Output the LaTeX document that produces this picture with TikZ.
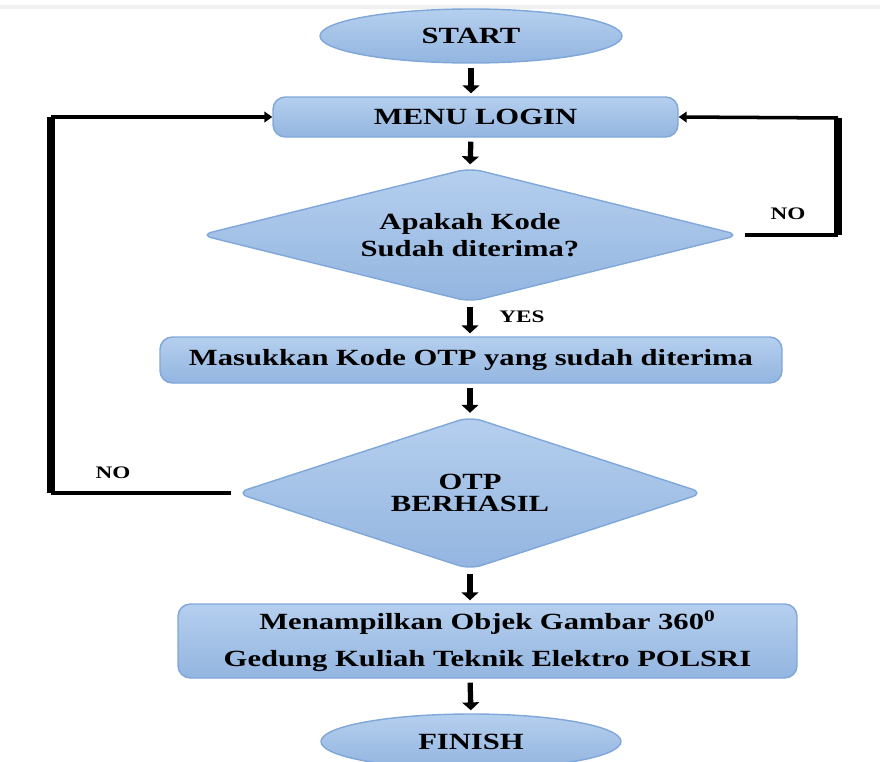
\documentclass[tikz,border=0pt]{standalone}
\usepackage{fontspec}
\setmainfont{Liberation Serif}[FakeStretch=1.32]
\usetikzlibrary{shapes.geometric,arrows.meta,positioning}
\definecolor{birumuda}{HTML}{B5CFEE}
\definecolor{birutua}{HTML}{93B5E0}
\definecolor{garisbiru}{HTML}{7FA7D9}
\tikzset{
  kotak/.style={rectangle, rounded corners=7pt, draw=garisbiru, line width=0.8pt,
    top color=birumuda, bottom color=birutua, inner sep=0pt, align=center,
    font=\bfseries\fontsize{13.2}{16}\selectfont},
  oval/.style={kotak, ellipse},
  belah/.style={kotak, diamond},
  panah/.style={line width=3pt, shorten <=0.08cm, shorten >=0.06cm,
    -{Triangle[length=4.5pt,width=9.5pt]}},
  balik/.style={line width=2pt, -{Triangle[length=4.5pt,width=6pt]}},
  tebal/.style={line width=5pt, line cap=square},
  bawah/.style={line width=2.8pt},
  ket/.style={font=\bfseries\fontsize{10}{12}\selectfont}
}

\begin{document}
\begin{tikzpicture}
        \useasboundingbox (0,0) rectangle (17.6,-15.24);
        \clip (0,0) rectangle (17.6,-15.24);
        %garis atas
        \draw[gray!12, line width=2pt] (0,-0.14) -- (17.6,-0.14);
        %simbol
        \node[oval, minimum width=6.04cm, minimum height=1.08cm] (mulai) at (9.42,-0.72) {START};
        \node[kotak, minimum width=8.1cm, minimum height=0.8cm] (menu) at (9.51,-2.34) {MENU LOGIN};
        \node[belah, aspect=4, minimum width=10.8cm, minimum height=2.68cm] (cekkode) at (9.4,-4.7)
            {Apakah Kode\\[-1pt] Sudah diterima?};
        \node[kotak, minimum width=12.44cm, minimum height=0.92cm] (masukkan) at (9.42,-7.2)
            {Masukkan Kode OTP yang sudah diterima};
        \node[belah, aspect=3, minimum width=9.36cm, minimum height=3.06cm] (cekotp) at (9.4,-9.86)
            {OTP\\[-3pt] BERHASIL};
        \node[kotak, minimum width=12.38cm, minimum height=1.48cm] (tampil) at (9.75,-12.82)
            {Menampilkan Objek Gambar 360\textsuperscript{0}\\[5pt] Gedung Kuliah Teknik Elektro POLSRI};
        \node[oval, minimum width=6.0cm, minimum height=1.1cm] (selesai) at (9.42,-14.83) {FINISH};
        %alur utama
        \draw[panah] (mulai.south) -- (mulai.south |- menu.north);
        \draw[panah] (mulai.south |- menu.south) -- (cekkode.north);
        \draw[panah] (cekkode.south) -- (cekkode.south |- masukkan.north);
        \draw[panah] (cekkode.south |- masukkan.south) -- (cekotp.north);
        \draw[panah] (cekotp.south) -- (cekotp.south |- tampil.north);
        \draw[panah] (cekotp.south |- tampil.south) -- (selesai.north);
        \node[ket] (ya) at (10.44,-6.34) {YES};
        %kode belum diterima
        \coordinate (ka) at (16.76,-2.36);
        \coordinate (kb) at (16.76,-4.7);
        \draw[bawah] ([xshift=0.08cm]cekkode.east) -- (kb);
        \draw[tebal] (kb) -- (ka);
        \draw[balik] (ka) -- (menu.east);
        \node[ket] (tidak1) at (15.76,-4.28) {NO};
        %otp gagal
        \coordinate (kc) at (1.02,-2.34);
        \coordinate (kd) at (1.02,-9.86);
        \draw[bawah] ([xshift=-0.08cm]cekotp.west) -- (kd);
        \draw[tebal] (kd) -- (kc);
        \draw[balik] (kc) -- (menu.west);
        \node[ket] (tidak2) at (2.26,-9.46) {NO};
 \end{tikzpicture}
\end{document}
